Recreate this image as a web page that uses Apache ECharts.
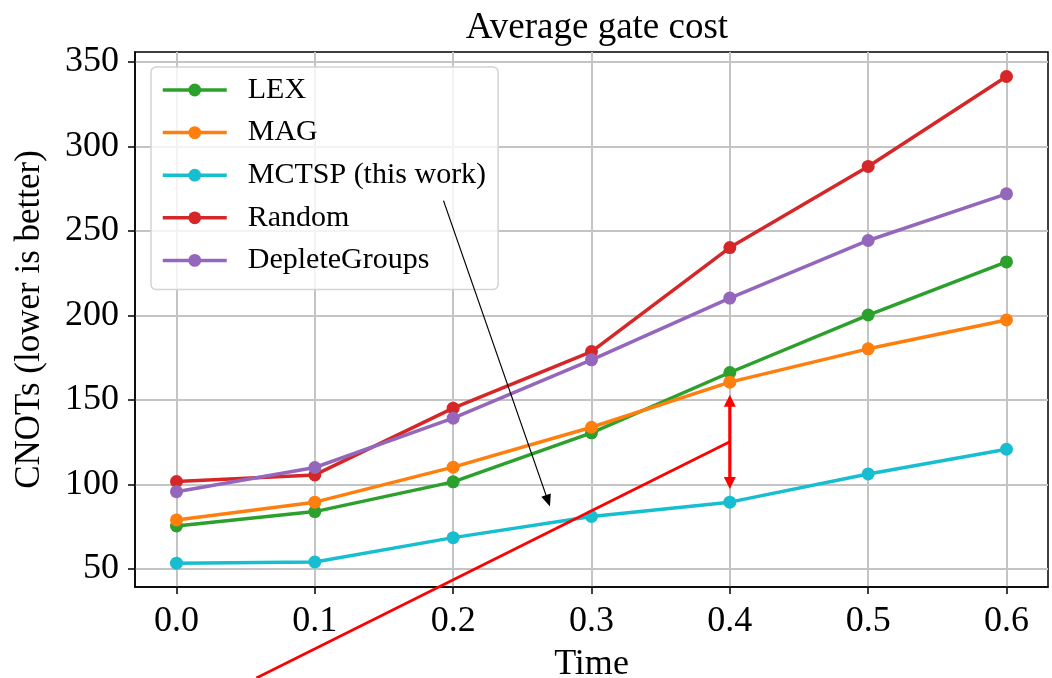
<!DOCTYPE html>
<html>
<head>
<meta charset="utf-8">
<title>Average gate cost</title>
<script src="https://cdn.jsdelivr.net/npm/echarts@6/dist/echarts.min.js"></script>
<style>
  html, body { margin: 0; padding: 0; background: #fff; }
  #chart { width: 1052px; height: 678px; }
</style>
</head>
<body>
<div id="chart"></div>
<script>
// 数据
const times = [0.0, 0.1, 0.2, 0.3, 0.4, 0.5, 0.6];
const lex = [75.4, 83.9, 101.5, 130.5, 166.2, 200.2, 231.6];
const mag = [79.0, 89.5, 110.2, 133.8, 160.5, 180.2, 197.3];
const mctsp = [53.4, 54.1, 68.5, 81.0, 89.5, 106.2, 120.8];
const random = [101.7, 105.6, 145.1, 178.6, 240.1, 288.1, 341.3];
const deplete = [95.7, 110.0, 139.2, 173.7, 210.2, 244.3, 271.9];

const xTicks = [0.0, 0.1, 0.2, 0.3, 0.4, 0.5, 0.6];
const yTicks = [50, 100, 150, 200, 250, 300, 350];

// 注释（数据坐标）
const redLine = [[0.0578, -14.5], [0.4, 125.3]];
const gapArrow = [[0.4, 153.0], [0.4, 97.3]];
const pointerArrow = [[0.193, 267.9], [0.270, 86.9]];

const FONT = "'Liberation Serif', 'Times New Roman', serif";

const seriesDefs = [
  { name: 'LEX', data: lex, color: '#2ca02c' },
  { name: 'MAG', data: mag, color: '#ff7f0e' },
  { name: 'MCTSP (this work)', data: mctsp, color: '#17becf' },
  { name: 'Random', data: random, color: '#d62728' },
  { name: 'DepleteGroups', data: deplete, color: '#9467bd' }
];

const chart = echarts.init(document.getElementById('chart'), null, { renderer: 'canvas' });

chart.setOption({
  animation: false,
  backgroundColor: '#fff',
  title: {
    text: 'Average gate cost',
    left: 592,
    textAlign: 'center',
    top: 5,
    textStyle: { fontFamily: FONT, fontSize: 37, fontWeight: 'normal', color: '#000' }
  },
  grid: {
    left: 135, right: 4, top: 52, bottom: 91,
    outerBoundsMode: 'none',
    containLabel: false,
    show: true, borderColor: '#000', borderWidth: 1.5, backgroundColor: 'transparent'
  },
  legend: {
    orient: 'vertical',
    left: 151, top: 67,
    itemWidth: 64, itemHeight: 16,
    itemGap: 12.6,
    padding: [8, 12, 14, 10],
    backgroundColor: 'rgba(255,255,255,0.8)',
    borderColor: '#d4d4d4', borderWidth: 1.5, borderRadius: 5,
    lineStyle: { width: 3.5 },
    textStyle: { fontFamily: FONT, fontSize: 30, color: '#000', padding: [0, 0, 0, 16] },
    data: seriesDefs.map(s => s.name)
  },
  xAxis: {
    type: 'value',
    min: -0.03, max: 0.63,
    name: 'Time', nameLocation: 'middle', nameGap: 60,
    nameTextStyle: { fontFamily: FONT, fontSize: 36, color: '#000' },
    axisLine: { show: true, onZero: false, lineStyle: { color: '#000', width: 1.5 } },
    axisTick: { show: true, length: 7, customValues: xTicks, lineStyle: { color: '#000', width: 1.5 } },
    axisLabel: {
      customValues: xTicks, margin: 17,
      fontFamily: FONT, fontSize: 36, color: '#000',
      formatter: v => v.toFixed(1)
    },
    splitLine: { show: true, lineStyle: { color: '#c4c4c4', width: 2 } }
  },
  yAxis: {
    type: 'value',
    min: 39.3, max: 355.8,
    name: 'CNOTs (lower is better)', nameLocation: 'middle', nameGap: 88,
    nameTextStyle: { fontFamily: FONT, fontSize: 35, color: '#000' },
    axisLine: { show: true, onZero: false, lineStyle: { color: '#000', width: 1.5 } },
    axisTick: { show: true, length: 7, customValues: yTicks, lineStyle: { color: '#000', width: 1.5 } },
    axisLabel: {
      customValues: yTicks, margin: 16,
      fontFamily: FONT, fontSize: 36, color: '#000'
    },
    splitLine: { show: true, lineStyle: { color: '#c4c4c4', width: 2 } }
  },
  series: seriesDefs.map(s => ({
    name: s.name,
    type: 'line',
    data: times.map((t, i) => [t, s.data[i]]),
    symbol: 'circle',
    symbolSize: 13,
    lineStyle: { color: s.color, width: 3.5 },
    itemStyle: { color: s.color },
    emphasis: { disabled: true }
  }))
});

// 箭头头部
function arrowHead(tip, from, len, width, color) {
  const dx = tip[0] - from[0], dy = tip[1] - from[1];
  const d = Math.sqrt(dx * dx + dy * dy);
  const ux = dx / d, uy = dy / d;
  const bx = tip[0] - ux * len, by = tip[1] - uy * len;
  const px = -uy * width / 2, py = ux * width / 2;
  return {
    type: 'polygon', z: 100,
    shape: { points: [tip, [bx + px, by + py], [bx - px, by - py]] },
    style: { fill: color }
  };
}

function drawAnnotations() {
  const toPx = p => chart.convertToPixel({ gridIndex: 0 }, p);
  const r0 = toPx(redLine[0]), r1 = toPx(redLine[1]);
  const g0 = toPx(gapArrow[0]), g1 = toPx(gapArrow[1]);
  const p0 = toPx(pointerArrow[0]), p1 = toPx(pointerArrow[1]);
  const headLen = 12;
  const shorten = (a, b, l) => {
    const dx = b[0] - a[0], dy = b[1] - a[1];
    const d = Math.sqrt(dx * dx + dy * dy);
    return [b[0] - dx / d * l, b[1] - dy / d * l];
  };
  chart.setOption({
    graphic: [
      { type: 'line', z: 100, shape: { x1: r0[0], y1: r0[1], x2: r1[0], y2: r1[1] },
        style: { stroke: '#ff0000', lineWidth: 2.8 } },
      (() => {
        const a = shorten(g1, g0, headLen - 2), b = shorten(g0, g1, headLen - 2);
        return { type: 'line', z: 100, shape: { x1: a[0], y1: a[1], x2: b[0], y2: b[1] },
          style: { stroke: '#ff0000', lineWidth: 3.2 } };
      })(),
      arrowHead(g0, g1, headLen, 12, '#ff0000'),
      arrowHead(g1, g0, headLen, 12, '#ff0000'),
      (() => {
        const b = shorten(p0, p1, 10);
        return { type: 'line', z: 100, shape: { x1: p0[0], y1: p0[1], x2: b[0], y2: b[1] },
          style: { stroke: '#000', lineWidth: 1.2 } };
      })(),
      arrowHead(p1, p0, 12, 10, '#000')
    ]
  });
}

drawAnnotations();
</script>
</body>
</html>
